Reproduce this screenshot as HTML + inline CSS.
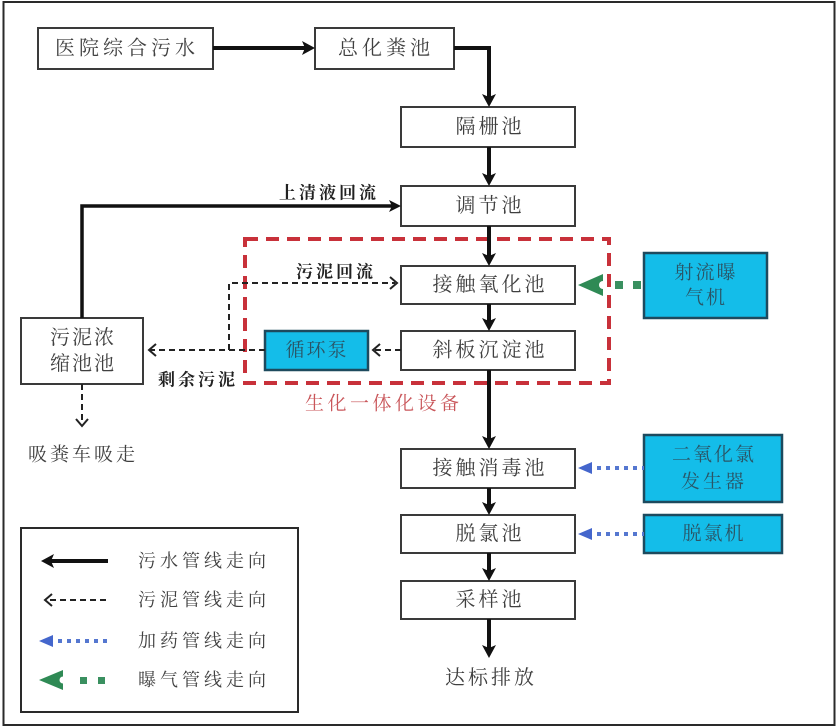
<!DOCTYPE html>
<html><head><meta charset="utf-8"><style>
html,body{margin:0;padding:0;background:#fff;}
svg{display:block;}
.t{font-family:"Liberation Serif","Noto Serif CJK SC",serif;fill:#404040;dominant-baseline:central;text-anchor:middle;}
.b{font-family:"Liberation Serif","Noto Serif CJK SC",serif;font-weight:bold;fill:#222;dominant-baseline:central;}
.box{fill:#fff;stroke:#3a3a3a;stroke-width:2;}
.cy{fill:#14bde9;stroke:#1d4a5e;stroke-width:2.5;}
.ct{font-family:"Liberation Serif","Noto Serif CJK SC",serif;fill:#2a5566;dominant-baseline:central;text-anchor:middle;}
</style></head><body>
<svg width="840" height="728" viewBox="0 0 840 728" xmlns="http://www.w3.org/2000/svg">
<rect x="0" y="0" width="840" height="728" fill="#fff"/>
<rect x="3.5" y="2" width="831" height="723" fill="none" stroke="#2a2a2a" stroke-width="2"/>

<!-- boxes -->
<rect class="box" x="38" y="28" width="175" height="41"/>
<text class="t" x="127" y="48.5" font-size="20" letter-spacing="4">医院综合污水</text>
<rect class="box" x="315" y="28" width="139" height="41"/>
<text class="t" x="386" y="48.5" font-size="20" letter-spacing="4">总化粪池</text>

<rect class="box" x="401" y="107" width="174" height="40"/>
<text class="t" x="490" y="127" font-size="20" letter-spacing="3">隔栅池</text>
<rect class="box" x="401" y="186" width="174" height="40"/>
<text class="t" x="490" y="206" font-size="20" letter-spacing="3">调节池</text>
<rect class="box" x="401" y="266" width="174" height="38"/>
<text class="t" x="490" y="285" font-size="20" letter-spacing="3">接触氧化池</text>
<rect class="box" x="401" y="331" width="174" height="39"/>
<text class="t" x="490" y="350.5" font-size="20" letter-spacing="3">斜板沉淀池</text>
<rect class="box" x="401" y="449" width="174" height="39"/>
<text class="t" x="490" y="468.5" font-size="20" letter-spacing="3">接触消毒池</text>
<rect class="box" x="401" y="515" width="174" height="38"/>
<text class="t" x="490" y="534" font-size="20" letter-spacing="3">脱氯池</text>
<rect class="box" x="401" y="581" width="174" height="38"/>
<text class="t" x="490" y="600" font-size="20" letter-spacing="3">采样池</text>
<text class="t" x="491" y="678" font-size="20" letter-spacing="3">达标排放</text>

<rect class="box" x="21" y="318" width="122" height="66"/>
<text class="t" x="83" y="338" font-size="20" letter-spacing="2">污泥浓</text>
<text class="t" x="83" y="364" font-size="20" letter-spacing="2">缩池池</text>
<text class="t" x="83" y="455" font-size="19" letter-spacing="3">吸粪车吸走</text>

<!-- cyan boxes -->
<rect class="cy" x="644" y="253" width="123" height="65"/>
<text class="ct" x="706" y="273" font-size="19" letter-spacing="2">射流曝</text>
<text class="ct" x="706" y="298" font-size="19" letter-spacing="2">气机</text>
<rect class="cy" x="265" y="331" width="103" height="39"/>
<text class="ct" x="317" y="350.5" font-size="19" letter-spacing="2">循环泵</text>
<rect class="cy" x="644" y="435" width="138" height="67"/>
<text class="ct" x="714" y="455" font-size="19" letter-spacing="2">二氧化氯</text>
<text class="ct" x="714" y="482" font-size="19" letter-spacing="3">发生器</text>
<rect class="cy" x="644" y="515" width="138" height="38"/>
<text class="ct" x="714" y="534" font-size="19" letter-spacing="2">脱氯机</text>

<!-- red dashed group -->
<rect x="245" y="239" width="364" height="144" fill="none" stroke="#c8313a" stroke-width="4" stroke-dasharray="13,8"/>
<text x="305" y="404" font-family="Liberation Serif,Noto Serif CJK SC,serif" font-size="19" letter-spacing="3.5" fill="#c9565a" dominant-baseline="central">生化一体化设备</text>

<!-- solid black flow lines -->
<g stroke="#111" stroke-width="4" fill="none">
<line x1="213" y1="48" x2="306" y2="48"/>
<polyline points="454,48 489,48 489,98"/>
<line x1="489" y1="147" x2="489" y2="177"/>
<line x1="489" y1="226" x2="489" y2="257"/>
<line x1="489" y1="304" x2="489" y2="322"/>
<line x1="489" y1="370" x2="489" y2="440"/>
<line x1="489" y1="488" x2="489" y2="506"/>
<line x1="489" y1="553" x2="489" y2="572"/>
<line x1="489" y1="619" x2="489" y2="649"/>
<polyline points="82,318 82,206 392,206" stroke-width="3.5"/>
</g>
<g fill="#111">
<polygon points="315,48 302,41 305,48 302,55"/>
<polygon points="489,107 482,94 489,97 496,94"/>
<polygon points="489,186 482,173 489,176 496,173"/>
<polygon points="489,266 482,253 489,256 496,253"/>
<polygon points="489,331 482,318 489,321 496,318"/>
<polygon points="489,449 482,436 489,439 496,436"/>
<polygon points="489,515 482,502 489,505 496,502"/>
<polygon points="489,581 482,568 489,571 496,568"/>
<polygon points="489,658 482,645 489,648 496,645"/>
<polygon points="401,206 389,200 392,206 389,212"/>
</g>
<text class="b" x="279" y="193" font-size="17" letter-spacing="3">上清液回流</text>
<text class="b" x="296" y="272" font-size="17" letter-spacing="3">污泥回流</text>
<text class="b" x="158" y="380" font-size="17" letter-spacing="3">剩余污泥</text>

<!-- dashed black sludge lines -->
<g stroke="#222" stroke-width="2" fill="none" stroke-dasharray="6,4">
<line x1="401" y1="350" x2="373" y2="350"/>
<line x1="265" y1="350" x2="149" y2="350"/>
<polyline points="229,350 229,283 395,283"/>
<line x1="82" y1="384" x2="82" y2="424"/>
</g>
<g stroke="#222" stroke-width="2" fill="none">
<polyline points="380,344 373,350 380,356"/>
<polyline points="156,344 149,350 156,356"/>
<polyline points="390,277 397,283 390,289"/>
<polyline points="76,419 82,426 88,419"/>
</g>

<!-- green aeration arrow -->
<polygon points="578,285 603,274 603,296" fill="#2f8a55"/>
<circle cx="603" cy="285" r="4" fill="#fff"/>
<rect x="615" y="281" width="8" height="8" fill="#3a9060"/>
<rect x="633" y="281" width="8" height="8" fill="#3a9060"/>

<!-- blue dosing arrows -->
<g fill="#4466cc">
<polygon points="578,468 592,462 592,474"/>
<polygon points="578,534 592,528 592,540"/>
</g>
<g stroke="#5577d0" stroke-width="4" stroke-dasharray="4,5" fill="none">
<line x1="597" y1="468" x2="644" y2="468"/>
<line x1="597" y1="534" x2="644" y2="534"/>
</g>

<!-- legend -->
<rect x="21" y="528" width="277" height="184" fill="#fff" stroke="#2a2a2a" stroke-width="2"/>
<line x1="50" y1="561" x2="108" y2="561" stroke="#111" stroke-width="4"/>
<polygon points="41,561 54,554 51,561 54,568" fill="#111"/>
<line x1="50" y1="600" x2="108" y2="600" stroke="#222" stroke-width="2" stroke-dasharray="6,4"/>
<polyline points="52,594 45,600 52,606" stroke="#222" stroke-width="2" fill="none"/>
<polygon points="39,641 53,635 53,647" fill="#4466cc"/>
<line x1="58" y1="641" x2="112" y2="641" stroke="#5577d0" stroke-width="4" stroke-dasharray="4,5"/>
<polygon points="39,680 63,670 63,690" fill="#2f8a55"/>
<circle cx="63" cy="680" r="3.5" fill="#fff"/>
<rect x="80" y="677" width="7" height="7" fill="#3a9060"/>
<rect x="98" y="677" width="7" height="7" fill="#3a9060"/>
<g font-size="18" letter-spacing="4">
<text class="t" x="204" y="561">污水管线走向</text>
<text class="t" x="204" y="600">污泥管线走向</text>
<text class="t" x="204" y="641">加药管线走向</text>
<text class="t" x="204" y="680">曝气管线走向</text>
</g>
</svg>
</body></html>
